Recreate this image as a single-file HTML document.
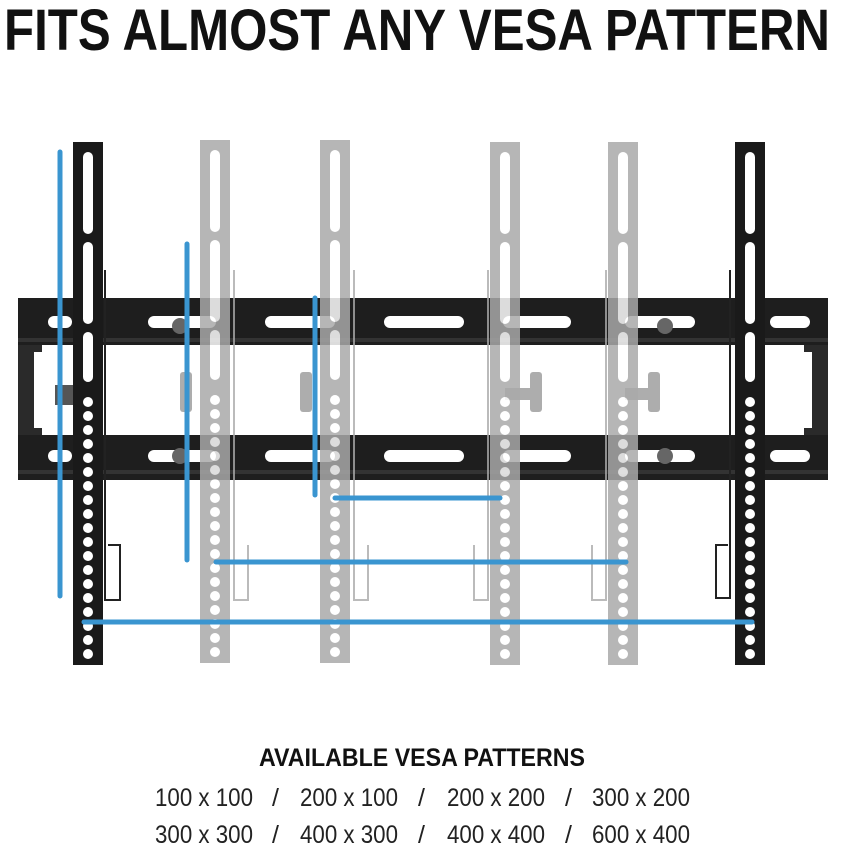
<!DOCTYPE html>
<html><head><meta charset="utf-8"><style>
html,body{margin:0;padding:0;background:#fff;}
svg{display:block;}
text{font-family:"Liberation Sans",sans-serif;}
</style></head><body>
<svg width="842" height="850" viewBox="0 0 842 850" xmlns="http://www.w3.org/2000/svg">
<rect width="842" height="850" fill="#fff"/>
<text x="4" y="50" font-size="58" font-weight="bold" fill="#111" textLength="826" lengthAdjust="spacingAndGlyphs">FITS ALMOST ANY VESA PATTERN</text>

<defs>
  <g id="railslots" fill="#fff">
    <rect x="48" y="-6" width="24" height="12" rx="6"/>
    <rect x="148" y="-6" width="68" height="12" rx="6"/>
    <rect x="265" y="-6" width="70" height="12" rx="6"/>
    <rect x="384" y="-6" width="80" height="12" rx="6"/>
    <rect x="503" y="-6" width="68" height="12" rx="6"/>
    <rect x="625" y="-6" width="70" height="12" rx="6"/>
    <rect x="770" y="-6" width="40" height="12" rx="6"/>
  </g>
  <g id="arm">
    <rect x="0" y="0" width="30" height="523"/>
    <rect x="10" y="10" width="10" height="82" rx="5" fill="#fff"/>
    <rect x="10" y="100" width="10" height="82" rx="5" fill="#fff"/>
    <rect x="10" y="190" width="10" height="50" rx="5" fill="#fff"/>
    <g fill="#fff">
      <circle cx="15" cy="260" r="5"/><circle cx="15" cy="274" r="5"/><circle cx="15" cy="288" r="5"/>
      <circle cx="15" cy="302" r="5"/><circle cx="15" cy="316" r="5"/><circle cx="15" cy="330" r="5"/>
      <circle cx="15" cy="344" r="5"/><circle cx="15" cy="358" r="5"/><circle cx="15" cy="372" r="5"/>
      <circle cx="15" cy="386" r="5"/><circle cx="15" cy="400" r="5"/><circle cx="15" cy="414" r="5"/>
      <circle cx="15" cy="428" r="5"/><circle cx="15" cy="442" r="5"/><circle cx="15" cy="456" r="5"/>
      <circle cx="15" cy="470" r="5"/><circle cx="15" cy="484" r="5"/><circle cx="15" cy="498" r="5"/>
      <circle cx="15" cy="512" r="5"/>
    </g>
  </g>
</defs>

<rect x="18" y="298" width="810" height="182" fill="#1e1e1e"/>
<rect x="42" y="345" width="762" height="90" fill="#fff"/>
<rect x="18" y="345" width="24" height="90" fill="#2a2a2a"/>
<rect x="804" y="345" width="24" height="90" fill="#2a2a2a"/>
<rect x="34" y="352" width="8" height="76" fill="#fff"/>
<rect x="804" y="352" width="8" height="76" fill="#fff"/>
<g transform="translate(0,322)"><use href="#railslots"/></g>
<g transform="translate(0,456)"><use href="#railslots"/></g>
<rect x="18" y="338" width="810" height="4" fill="#333"/>
<rect x="18" y="470" width="810" height="4" fill="#333"/>
<g fill="#555"><rect x="55" y="385" width="20" height="20"/><rect x="750" y="375" width="12" height="40" rx="3"/><rect x="735" y="390" width="20" height="12"/></g>
<g fill="#999" opacity="0.8">
  <rect x="180" y="372" width="12" height="40" rx="3"/><rect x="300" y="372" width="12" height="40" rx="3"/>
  <rect x="530" y="372" width="12" height="40" rx="3"/><rect x="648" y="372" width="12" height="40" rx="3"/>
  <rect x="505" y="388" width="28" height="12"/><rect x="625" y="388" width="28" height="12"/>
</g>
<circle cx="180" cy="326" r="8" fill="#666"/><circle cx="180" cy="456" r="8" fill="#666"/>
<circle cx="665" cy="326" r="8" fill="#666"/><circle cx="665" cy="456" r="8" fill="#666"/>
<g fill="none" stroke="#222" stroke-width="2"><path d="M105 270 V600 H120 V545 H108"/><path d="M730 270 V598 H716 V545 H728"/></g>
<g fill="none" stroke="#aaa" stroke-width="2" opacity="0.8"><path d="M234 270 V600 H248 V545"/><path d="M354 270 V600 H368 V545"/><path d="M488 270 V600 H474 V545"/><path d="M606 270 V600 H592 V545"/></g>

<g fill="#a9a9a9" opacity="0.85">
  <use href="#arm" transform="translate(200,140)"/>
  <use href="#arm" transform="translate(320,140)"/>
  <use href="#arm" transform="translate(490,142)"/>
  <use href="#arm" transform="translate(608,142)"/>
</g>
<g fill="#1a1a1a">
  <use href="#arm" transform="translate(73,142)"/>
  <use href="#arm" transform="translate(735,142)"/>
</g>

<g stroke="#3a95d0" stroke-width="5" stroke-linecap="round">
  <line x1="60" y1="152" x2="60" y2="596"/>
  <line x1="187" y1="244" x2="187" y2="560"/>
  <line x1="315" y1="298" x2="315" y2="495"/>
  <line x1="335" y1="498" x2="500" y2="498"/>
  <line x1="216" y1="562" x2="626" y2="562"/>
  <line x1="84" y1="622" x2="752" y2="622"/>
</g>

<text x="422" y="766" font-size="25" font-weight="bold" fill="#111" text-anchor="middle" textLength="326" lengthAdjust="spacingAndGlyphs">AVAILABLE VESA PATTERNS</text>
<g font-size="25" fill="#222">
  <text x="155" y="806" textLength="98" lengthAdjust="spacingAndGlyphs">100 x 100</text>
  <text x="272" y="806">/</text>
  <text x="300" y="806" textLength="98" lengthAdjust="spacingAndGlyphs">200 x 100</text>
  <text x="418" y="806">/</text>
  <text x="447" y="806" textLength="98" lengthAdjust="spacingAndGlyphs">200 x 200</text>
  <text x="565" y="806">/</text>
  <text x="592" y="806" textLength="98" lengthAdjust="spacingAndGlyphs">300 x 200</text>
  <text x="155" y="843" textLength="98" lengthAdjust="spacingAndGlyphs">300 x 300</text>
  <text x="272" y="843">/</text>
  <text x="300" y="843" textLength="98" lengthAdjust="spacingAndGlyphs">400 x 300</text>
  <text x="418" y="843">/</text>
  <text x="447" y="843" textLength="98" lengthAdjust="spacingAndGlyphs">400 x 400</text>
  <text x="565" y="843">/</text>
  <text x="592" y="843" textLength="98" lengthAdjust="spacingAndGlyphs">600 x 400</text>
</g>
</svg>
</body></html>
